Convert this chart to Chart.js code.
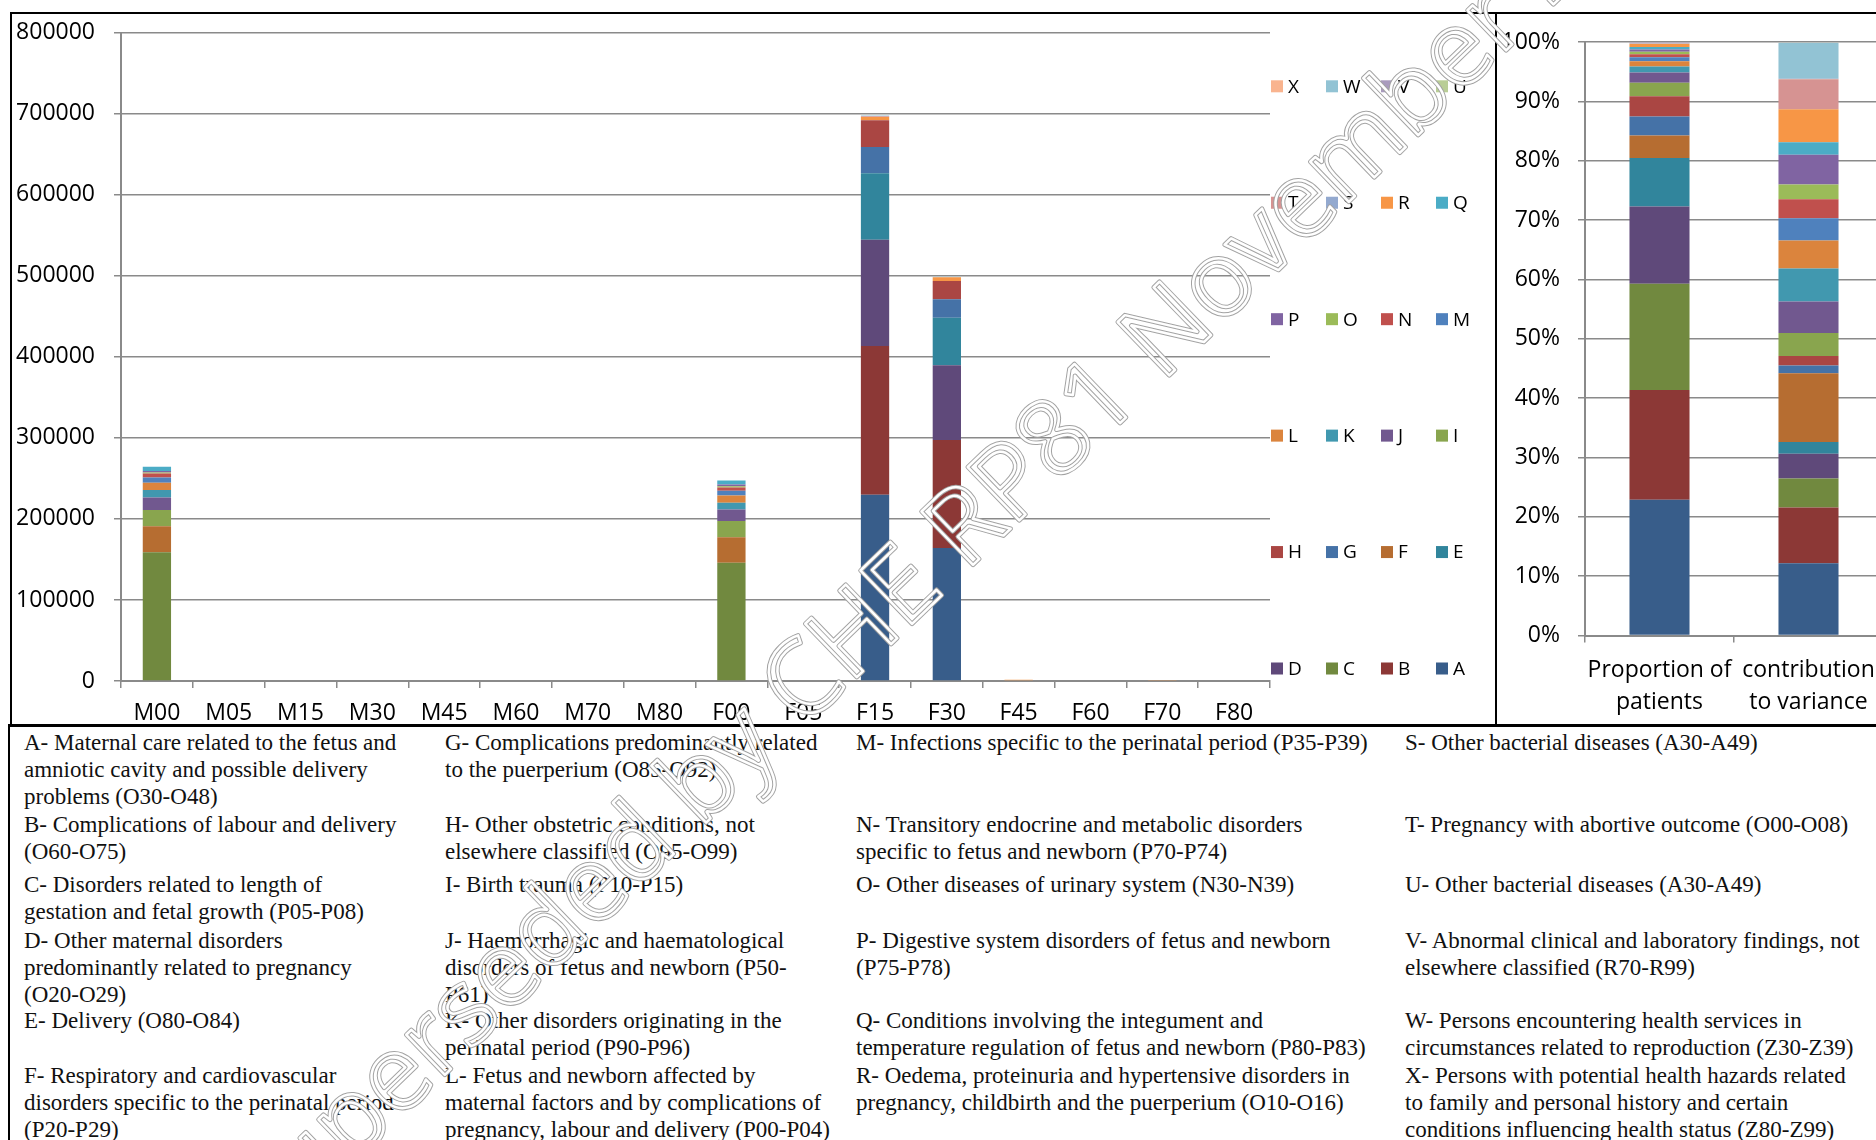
<!DOCTYPE html>
<html>
<head>
<meta charset="utf-8">
<script src="https://cdn.jsdelivr.net/npm/chart.js@4.4.1/dist/chart.umd.min.js"></script>
<style>
  html, body { margin:0; padding:0; background:#fff; }
  body { width:1876px; height:1140px; overflow:hidden; position:relative; }
  canvas { position:absolute; }
  .line { position:absolute; background:#000; z-index:5; }
  .cell { position:absolute; font-family:"Liberation Serif", "Times New Roman", serif; font-size:23px; line-height:27px; color:#111; white-space:nowrap; }
</style>
</head>
<body>
<canvas id="left" width="1496" height="725" style="left:0;top:0"></canvas>
<canvas id="right" width="400" height="725" style="left:1496px;top:0"></canvas>

<div class="line" style="left:10px;top:12px;width:1866px;height:2px"></div>
<div class="line" style="left:10px;top:12px;width:2px;height:714px"></div>
<div class="line" style="left:8px;top:724px;width:1868px;height:3px"></div>
<div class="line" style="left:8px;top:724px;width:2px;height:416px"></div>
<div class="line" style="left:1495px;top:12px;width:2px;height:714px"></div>

<div id="texts"></div>
<canvas id="wm" width="1876" height="1140" style="left:0;top:0;z-index:10;pointer-events:none"></canvas>

<script>
// ---------------- DATA ----------------
const categories = ['M00','M05','M15','M30','M45','M60','M70','M80','F00','F05','F15','F30','F45','F60','F70','F80'];
const letters = ['A','B','C','D','E','F','G','H','I','J','K','L','M','N','O','P','Q','R','S','T','U','V','W','X'];

// patient counts per category, in series order A..X (categories not listed are zero)
const countsM00 = [0,0,159000,0,0,32000,0,0,20000,15600,9000,9000,6500,5000,1200,2000,5000,0,0,0,0,0,0,0];
const countsF00 = [0,0,146000,0,0,31500,0,0,20000,14300,8200,9000,5700,4100,1500,2200,4900,0,0,0,0,0,0,0];
const countsF15 = [230000,183600,0,131000,82000,0,32500,33000,0,0,0,0,0,0,0,0,0,4000,0,800,0,0,1000,0];
const countsF30 = [164300,133000,0,92300,58700,0,23000,22400,0,0,0,0,0,0,0,0,0,4500,0,0,0,0,800,0];
const countsF45 = [0,0,0,0,0,0,0,0,0,0,0,0,0,0,0,0,0,1500,0,0,0,0,0,0];
const countsF70 = [0,0,0,0,0,0,0,0,0,0,0,0,0,0,0,0,0,700,0,0,0,0,0,0];

// right panel: percentage shares, A..X
const rightLabels = [['Proportion of','patients'], ['contribution','to variance']];
const proportionPct = [22.9,18.5,17.9,13.0,8.2,3.8,3.2,3.4,2.3,1.7,1.0,0.9,0.7,0.5,0.4,0.4,0.4,0.5,0.05,0.1,0.05,0.05,0.05,0.05];
const variancePct   = [12.2,9.4,4.9,4.2,2.0,11.6,1.3,1.6,3.9,5.3,5.6,4.7,3.8,3.2,2.5,5.0,2.1,5.6,0.05,5.0,0.05,0.05,6.1,0.1];

const yTicksLeft = [0,100000,200000,300000,400000,500000,600000,700000,800000];

const descriptions = [
  ['A- Maternal care related to the fetus and','amniotic cavity and possible delivery','problems (O30-O48)'],
  ['B- Complications of labour and delivery','(O60-O75)'],
  ['C- Disorders related to length of','gestation and fetal growth (P05-P08)'],
  ['D- Other maternal disorders','predominantly related to pregnancy','(O20-O29)'],
  ['E- Delivery (O80-O84)'],
  ['F- Respiratory and cardiovascular','disorders specific to the perinatal period','(P20-P29)'],
  ['G- Complications predominantly related','to the puerperium (O85-O92)'],
  ['H- Other obstetric conditions, not','elsewhere classified (O95-O99)'],
  ['I- Birth trauma (P10-P15)'],
  ['J- Haemorrhagic and haematological','disorders of fetus and newborn (P50-','P61)'],
  ['K- Other disorders originating in the','perinatal period (P90-P96)'],
  ['L- Fetus and newborn affected by','maternal factors and by complications of','pregnancy, labour and delivery (P00-P04)'],
  ['M- Infections specific to the perinatal period (P35-P39)'],
  ['N- Transitory endocrine and metabolic disorders','specific to fetus and newborn (P70-P74)'],
  ['O- Other diseases of urinary system (N30-N39)'],
  ['P- Digestive system disorders of fetus and newborn','(P75-P78)'],
  ['Q- Conditions involving the integument and','temperature regulation of fetus and newborn (P80-P83)'],
  ['R- Oedema, proteinuria and hypertensive disorders in','pregnancy, childbirth and the puerperium (O10-O16)'],
  ['S- Other bacterial diseases (A30-A49)'],
  ['T- Pregnancy with abortive outcome (O00-O08)'],
  ['U- Other bacterial diseases (A30-A49)'],
  ['V- Abnormal clinical and laboratory findings, not','elsewhere classified (R70-R99)'],
  ['W- Persons encountering health services in','circumstances related to reproduction (Z30-Z39)'],
  ['X-  Persons with potential health hazards related','to family and personal history and certain','conditions influencing health status (Z80-Z99)']
];

const watermarkText = 'Superseded by CHE RP81 November 2012';

// ---------------- STYLE ----------------
const colors = ['#385D8A','#8C3836','#71893F','#5F497A','#31859C','#B66D31',
                '#4572A7','#AA4643','#89A54E','#71588F','#4198AF','#DB843D',
                '#4F81BD','#C0504D','#9BBB59','#8064A2','#4BACC6','#F79646',
                '#93A9CF','#D69392','#B9CD96','#A99BBD','#92C3D4','#F9B48F'];
const gridColor = '#8a8a8a';
const sans = '"Open Sans", "Noto Sans", sans-serif';

const countsByCategory = {M00:countsM00, F00:countsF00, F15:countsF15, F30:countsF30, F45:countsF45, F70:countsF70};

const leftDatasets = letters.map((L, i) => ({
  label: L,
  data: categories.map(c => countsByCategory[c] ? countsByCategory[c][i] : 0),
  backgroundColor: colors[i],
  borderWidth: 0,
  barPercentage: 0.394,
  categoryPercentage: 1
}));

const gridLegend = {
  id: 'gridLegend',
  afterDraw(chart) {
    const ctx = chart.ctx;
    const area = chart.chartArea;
    const order = letters.slice().reverse();
    const rows = 6, cols = 4;
    const y0 = area.top + 53.5, y1 = area.bottom - 12.5;
    const step = (y1 - y0) / (rows - 1);
    ctx.save();
    ctx.font = '19px ' + sans;
    ctx.textBaseline = 'middle';
    ctx.textAlign = 'left';
    for (let r = 0; r < rows; r++) {
      for (let c = 0; c < cols; c++) {
        const L = order[r * cols + c];
        const idx = letters.indexOf(L);
        const bx = area.right + 1 + c * 55;
        const by = y0 + r * step;
        ctx.fillStyle = chart.data.datasets[idx].backgroundColor;
        ctx.fillRect(bx, by - 6, 12, 12);
        ctx.fillStyle = '#000';
        ctx.fillText(L, bx + 17, by + 1);
      }
    }
    ctx.restore();
  }
};

new Chart(document.getElementById('left'), {
  type: 'bar',
  data: { labels: categories, datasets: leftDatasets },
  options: {
    responsive: false, animation: false, devicePixelRatio: 1,
    layout: { padding: { left: 0, right: 226, top: 32, bottom: 0 } },
    plugins: { legend: { display: false }, tooltip: { enabled: false } },
    scales: {
      x: {
        stacked: true,
        grid: { display: true, drawOnChartArea: false, drawTicks: true, tickLength: 7, color: gridColor, lineWidth: 1.5, offset: true },
        border: { color: gridColor, width: 2 },
        ticks: { color: '#000', font: { family: sans, size: 23 }, padding: 12, maxRotation: 0, minRotation: 0, autoSkip: false },
        afterFit: s => { s.height = 44; }
      },
      y: {
        stacked: true, min: 0, max: 800000,
        afterBuildTicks: s => { s.ticks = yTicksLeft.map(v => ({ value: v })); },
        ticks: { color: '#000', font: { family: sans, size: 23 }, padding: 19, callback: v => String(v) },
        grid: { color: gridColor, lineWidth: 1.5, tickLength: 7, drawTicks: true },
        border: { color: gridColor, width: 2 },
        afterFit: s => { s.width = 121; }
      }
    }
  },
  plugins: [gridLegend]
});

const propSum = proportionPct.reduce((a, b) => a + b, 0);
const varSum = variancePct.reduce((a, b) => a + b, 0);
const rightDatasets = letters.map((L, i) => ({
  label: L,
  data: [proportionPct[i] / propSum * 100, variancePct[i] / varSum * 100],
  backgroundColor: colors[i],
  borderWidth: 0,
  barPercentage: 0.403,
  categoryPercentage: 1
}));

new Chart(document.getElementById('right'), {
  type: 'bar',
  data: { labels: rightLabels, datasets: rightDatasets },
  options: {
    responsive: false, animation: false, devicePixelRatio: 1,
    layout: { padding: { left: 0, right: 13, top: 42, bottom: 0 } },
    plugins: { legend: { display: false }, tooltip: { enabled: false } },
    scales: {
      x: {
        stacked: true,
        grid: { display: true, drawOnChartArea: false, drawTicks: true, tickLength: 7, color: gridColor, lineWidth: 1.5, offset: true },
        border: { color: gridColor, width: 2 },
        ticks: { color: '#000', font: { family: sans, size: 23, lineHeight: 1.4 }, padding: 11.5, maxRotation: 0, minRotation: 0, autoSkip: false },
        afterFit: s => { s.height = 89.5; }
      },
      y: {
        stacked: true, min: 0, max: 100,
        ticks: { stepSize: 10, color: '#000', font: { family: sans, size: 23 }, padding: 18, callback: v => v + '%' },
        grid: { color: gridColor, lineWidth: 1.5, tickLength: 7, drawTicks: true },
        border: { color: gridColor, width: 2 },
        afterFit: s => { s.width = 89; }
      }
    }
  }
});

// ---------------- DESCRIPTION TABLE ----------------
const colX = [24, 445, 856, 1405];
const rowCenters = [742, 824, 884.5, 940, 1020.5, 1075.5];
const textHost = document.getElementById('texts');
descriptions.forEach((lines, i) => {
  const col = Math.floor(i / 6), row = i % 6;
  const d = document.createElement('div');
  d.className = 'cell';
  d.style.left = colX[col] + 'px';
  d.style.top = (rowCenters[row] - 13.5) + 'px';
  d.innerHTML = lines.map(t => t.replace(/&/g,'&amp;').replace(/</g,'&lt;')).join('<br>');
  textHost.appendChild(d);
});

// ---------------- WATERMARK ----------------
(function () {
  const c = document.getElementById('wm');
  const ctx = c.getContext('2d');
  const fs = 104;
  ctx.font = fs + 'px ' + sans;
  const pre = ctx.measureText('Superseded by ').width;
  const cw = ctx.measureText('C').width;
  ctx.translate(800, 680);
  ctx.rotate(-44 * Math.PI / 180);
  const x = -(pre + cw / 2), y = 0.36 * fs;
  ctx.lineJoin = 'round';
  ctx.strokeStyle = '#a2a2a2';
  ctx.lineWidth = 4.5;
  ctx.strokeText(watermarkText, x, y);
  ctx.strokeStyle = '#ffffff';
  ctx.lineWidth = 2.5;
  ctx.strokeText(watermarkText, x, y);
})();
</script>
</body>
</html>
